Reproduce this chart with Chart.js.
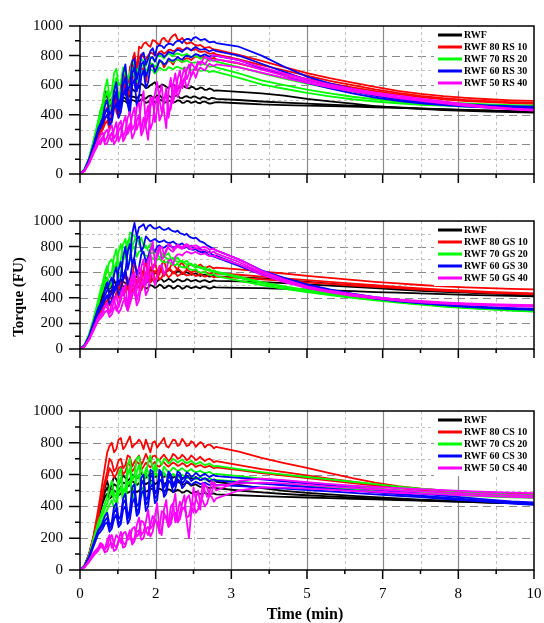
<!DOCTYPE html>
<html>
<head>
	<meta charset="utf-8">
	<title>Torque curves</title>
	<script src="https://cdn.jsdelivr.net/npm/chart.js@4.4.0/dist/chart.umd.min.js"></script>
	<style>
		body { margin: 0; background: #fff; }
		#fig { position: relative; width: 544px; height: 623px; }
		canvas { position: absolute; left: 0; }
		.title { position: absolute; font-family: "Liberation Serif", serif; font-weight: bold; text-align: center; color: #000; }
		#ytitle { left: -32px; top: 287px; width: 100px; height: 20px; line-height: 20px; font-size: 15px; transform: rotate(-90deg); }
		#xtitle { left: 205px; top: 604px; width: 200px; height: 20px; line-height: 20px; font-size: 16px; }
	</style>
</head>
<body>
<div id="fig">
	<canvas id="c1" width="544" height="200" style="top:0px"></canvas>
	<canvas id="c2" width="544" height="180" style="top:195px"></canvas>
	<canvas id="c3" width="544" height="238" style="top:385px"></canvas>
	<div class="title" id="ytitle">Torque (FU)</div>
	<div class="title" id="xtitle">Time (min)</div>
</div>
<script>
// time axis (min): main readings plus the in-between readings of the noisy mixing phase
const time = [0,0.1,0.2,0.3,0.4,0.5,0.6,0.7,0.8,0.9,1,1.1,1.2,1.3,1.4,1.5,1.6,1.7,1.8,1.9,2,2.1,2.2,2.3,2.4,2.5,2.6,2.7,2.8,2.9,3,3.5,4,4.5,5,5.5,6,6.5,7,7.5,8,8.5,9,9.5,10];
const timeMid = [0.45,0.55,0.65,0.75,0.85,0.95,1.05,1.15,1.25,1.35,1.45,1.55,1.65,1.75,1.85,1.95,2.05,2.15,2.25,2.35,2.45,2.55,2.65,2.75,2.85,2.95];
const xTickLabels = ['0','2','3','5','7','8','10'];
const colors = ['#000000','#ff0000','#00ff00','#0000ff','#ff00ff'];

const rsLabels = ['RWF','RWF 80 RS 10','RWF 70 RS 20','RWF 60 RS 30','RWF 50 RS 40'];
const gsLabels = ['RWF','RWF 80 GS 10','RWF 70 GS 20','RWF 60 GS 30','RWF 50 GS 40'];
const csLabels = ['RWF','RWF 80 CS 10','RWF 70 CS 20','RWF 60 CS 30','RWF 50 CS 40'];

// panel 1 - RS (three runs each)
const rsRWF = [
	[0,30,100,210,340,470,540,510,490,520,540,530,560,590,600,585,610,590,605,590,600,595,585,590,578,585,575,580,570,572,565,555,545,530,508,490,475,458,448,440,432,426,422,418,415],
	[0,28,95,200,330,450,520,470,500,480,510,500,520,530,515,525,520,530,515,525,520,530,515,522,518,525,512,520,510,515,508,500,490,482,475,468,462,456,450,444,438,433,429,425,422],
	[0,25,90,190,310,430,500,460,480,470,490,480,495,490,500,485,495,488,498,485,492,487,495,482,490,485,480,488,482,478,485,478,470,466,462,458,455,451,447,442,437,432,428,424,420]
];
const rsRWFmid = [
	[420,560,480,530,470,560,510,575,570,610,580,600,620,585,600,580,605,580,595,582,590,572,585,568,578,562],
	[400,530,460,510,470,520,490,525,510,535,510,530,515,535,510,528,515,532,512,526,515,522,508,518,505,512],
	[380,490,450,490,460,495,475,500,485,505,480,500,485,502,480,496,482,498,480,494,480,490,478,490,476,482]
];
const rs80 = [
	[0,25,90,180,260,330,450,380,560,500,700,640,820,860,880,870,905,885,910,900,920,945,905,895,885,878,868,862,855,848,840,805,765,722,682,648,618,588,562,542,526,514,505,498,494],
	[0,22,85,170,250,310,400,470,420,600,560,720,700,780,790,800,815,805,830,822,840,835,850,842,848,838,832,826,820,815,808,775,735,700,665,630,600,572,548,528,512,500,492,486,482],
	[0,20,80,160,240,300,360,420,500,450,600,580,680,650,720,700,740,730,755,745,760,770,765,775,780,785,790,788,785,780,775,745,708,676,642,612,585,560,538,519,504,493,485,479,474]
];
const rs80mid = [
	[300,420,350,480,430,620,560,760,700,850,890,860,900,870,920,890,935,910,920,880,890,870,872,852,858,842],
	[290,370,430,520,380,650,520,760,650,810,775,820,800,825,812,838,830,850,838,855,835,845,825,830,812,818],
	[280,340,300,460,420,540,500,640,560,700,620,735,690,760,720,765,740,775,755,782,770,795,780,792,775,785]
];
const rs70 = [
	[0,35,110,230,360,480,640,560,710,620,700,680,740,720,760,770,780,790,795,800,805,810,808,805,800,795,790,782,775,768,760,722,682,645,610,580,555,532,512,497,485,477,470,466,462],
	[0,32,105,220,340,450,560,500,650,560,700,620,690,700,730,720,745,740,755,750,765,770,765,760,758,752,748,740,735,728,720,680,632,600,570,545,522,505,490,478,470,464,460,456,453],
	[0,30,100,210,320,420,500,460,600,540,640,600,660,650,680,690,700,695,710,705,715,720,718,715,712,708,705,700,698,694,690,650,606,576,548,525,505,490,478,468,462,456,452,448,446]
];
const rs70mid = [
	[430,580,520,680,600,720,640,760,690,780,730,790,760,800,780,815,795,815,800,812,792,798,780,785,765,770],
	[400,520,470,600,520,660,580,720,640,740,690,750,725,765,740,770,755,775,760,768,750,755,738,745,725,730],
	[380,470,430,560,500,610,560,680,620,700,660,705,680,720,700,722,708,725,710,718,702,710,696,702,688,695]
];
const rs60 = [
	[0,30,100,200,310,380,500,430,620,520,740,600,780,700,820,780,850,860,865,870,880,890,900,905,912,920,915,908,900,892,885,860,800,725,658,612,575,538,512,492,480,471,464,459,455],
	[0,28,95,190,290,360,440,380,560,470,650,440,720,620,760,700,790,800,810,805,820,830,835,840,845,850,848,842,838,835,830,800,745,690,636,596,560,528,504,486,472,462,455,450,446],
	[0,25,90,180,280,340,400,350,480,420,580,400,640,520,700,620,740,720,760,750,770,775,780,790,795,800,805,802,800,800,798,770,715,665,616,578,545,516,495,478,465,456,449,444,440]
];
const rs60mid = [
	[340,460,400,560,450,680,560,760,640,800,740,830,800,870,850,880,870,900,885,912,900,925,905,912,890,895],
	[320,410,360,500,420,600,520,680,560,740,660,780,760,815,790,825,812,840,825,850,835,858,840,845,828,838],
	[310,380,330,440,380,520,470,600,460,660,580,720,690,770,740,780,765,790,772,800,788,810,795,808,792,802]
];
const rs50 = [
	[0,25,80,160,230,280,250,330,270,360,290,420,330,480,380,230,520,440,600,310,650,560,700,640,740,700,760,770,785,795,800,770,720,680,640,605,575,550,530,510,490,472,455,443,435],
	[0,22,75,150,220,240,300,220,350,260,390,310,450,350,560,400,470,620,420,580,480,680,610,720,680,730,745,755,765,770,775,750,705,665,628,595,566,542,520,500,482,465,450,438,430],
	[0,20,70,140,200,250,210,280,230,320,250,340,280,400,300,460,350,520,400,550,440,600,560,650,620,690,700,710,725,735,740,720,685,650,615,585,558,535,512,494,477,460,447,436,428]
];
const rs50mid = [
	[260,220,300,240,330,250,380,300,450,290,320,450,350,540,420,560,480,640,580,700,660,720,740,790,775,805],
	[200,280,250,300,220,340,270,400,300,480,330,520,540,500,480,380,600,560,660,640,750,700,760,740,780,765],
	[230,200,250,200,290,220,300,240,360,260,400,300,470,360,500,420,540,520,620,580,670,650,720,700,745,730]
];

// panel 2 - GS
const gsRWF = [
	[0,28,95,200,330,470,550,520,500,530,560,545,570,590,600,585,610,595,620,600,610,590,605,595,590,585,580,578,575,570,568,560,552,540,525,510,497,485,472,462,453,445,438,433,430],
	[0,26,90,190,320,450,520,490,510,495,515,505,525,535,520,530,540,528,545,535,540,530,538,532,540,535,530,535,530,528,532,528,522,515,505,495,485,475,465,455,447,440,433,428,424],
	[0,24,85,180,300,420,480,460,475,470,485,478,490,485,495,480,492,486,495,482,490,480,488,478,485,482,480,486,480,478,482,478,475,470,465,458,452,445,440,434,428,423,419,415,412]
];
const gsRWFmid = [
	[420,560,490,540,480,555,530,580,560,610,575,620,590,615,590,625,595,610,585,600,580,592,570,582,565,574],
	[390,500,470,525,480,525,495,540,515,545,512,548,520,550,525,548,522,545,528,545,528,540,525,538,522,536],
	[360,470,445,485,458,490,470,498,478,502,472,500,478,503,475,496,472,495,470,492,475,488,474,490,472,486]
];
const gs80 = [
	[0,25,88,180,280,360,420,380,500,450,600,400,680,520,620,560,640,610,660,630,650,640,660,645,655,648,650,645,640,638,635,622,605,590,572,555,540,525,512,500,490,482,476,470,466],
	[0,22,82,170,260,330,380,450,420,520,480,360,560,480,600,540,620,580,610,600,620,605,615,600,610,605,600,598,595,592,590,580,566,552,538,524,510,498,486,474,464,455,447,440,434],
	[0,20,78,160,250,310,360,400,440,480,450,520,470,560,500,580,540,590,560,585,575,590,580,585,578,582,575,572,570,568,565,555,545,533,520,508,496,485,475,465,455,446,438,432,426]
];
const gs80mid = [
	[320,390,340,460,400,540,480,560,600,460,680,520,670,580,690,610,670,620,675,630,665,640,660,635,648,630],
	[300,360,420,390,480,440,560,420,500,560,520,640,520,650,570,630,590,625,595,620,598,612,592,605,588,598],
	[290,330,390,370,470,420,500,440,540,460,600,520,610,540,600,560,605,570,595,575,590,570,585,565,578,560]
];
const gs70 = [
	[0,35,115,240,380,520,650,600,780,700,860,910,880,840,810,790,770,755,745,735,710,700,690,680,668,650,642,632,622,612,605,565,522,490,462,436,412,390,372,355,340,327,315,305,298],
	[0,32,110,230,360,500,620,700,650,820,760,870,850,820,790,770,750,735,720,710,700,690,680,670,660,648,638,628,618,608,598,555,515,482,455,430,406,385,366,350,336,323,312,302,295],
	[0,30,105,220,340,460,560,520,680,600,740,700,800,760,740,720,705,695,685,675,665,655,645,635,625,615,605,595,586,578,570,535,500,470,445,422,400,380,362,346,332,320,310,300,292]
];
const gs70mid = [
	[460,600,560,720,640,820,740,900,850,870,790,820,760,780,735,750,700,715,680,690,655,662,630,640,610,615],
	[440,560,680,620,760,700,840,800,880,790,810,750,765,720,735,700,712,680,690,660,668,640,645,620,625,600],
	[410,520,480,620,560,700,650,780,720,770,730,735,700,710,680,690,660,668,640,648,620,625,598,605,580,585]
];
const gs60 = [
	[0,30,100,210,320,380,520,440,640,560,800,700,985,950,975,960,950,945,940,935,930,915,905,890,880,865,855,835,810,790,770,700,615,555,505,465,432,405,385,365,350,337,327,320,315],
	[0,28,95,200,300,360,460,560,480,680,600,820,720,880,800,860,850,843,840,835,830,825,818,810,800,790,778,765,752,740,728,660,590,540,495,458,425,398,378,360,345,333,323,315,310],
	[0,26,90,190,280,340,420,380,520,460,620,540,700,640,760,720,790,800,795,805,800,798,795,790,782,775,765,752,740,728,715,650,580,528,485,450,420,394,373,356,342,330,320,312,306]
];
const gs60mid = [
	[350,460,400,580,500,720,620,900,880,960,930,970,940,955,930,945,920,925,900,900,870,870,840,825,800,780],
	[330,420,520,440,620,540,760,660,860,760,880,840,860,835,850,828,840,815,825,802,808,780,785,755,760,732],
	[310,380,350,460,420,560,500,660,580,740,680,780,760,810,790,812,795,805,788,798,778,780,758,760,732,722]
];
const gs50 = [
	[0,24,80,165,250,300,360,300,420,380,500,400,600,450,700,560,840,720,800,760,810,800,805,812,808,805,800,795,790,780,770,700,610,545,490,455,428,405,388,375,365,357,350,346,343],
	[0,22,75,155,235,280,320,360,300,440,350,520,420,640,500,700,620,760,700,780,770,785,790,795,790,785,780,772,765,755,745,680,595,535,482,448,422,400,383,370,360,352,346,341,338],
	[0,20,70,145,220,260,300,270,340,310,400,350,460,380,540,460,600,560,660,620,700,720,740,750,755,752,748,742,735,728,720,660,580,522,475,442,416,395,378,365,355,347,341,336,332]
];
const gs50mid = [
	[270,330,280,380,330,460,340,540,380,640,500,760,680,780,740,820,780,815,795,820,800,810,790,798,775,785],
	[260,340,280,400,330,480,300,580,460,600,520,740,660,800,720,790,760,800,782,805,778,792,770,778,750,760],
	[240,290,250,320,280,370,300,430,340,500,420,580,500,640,580,690,660,740,730,760,745,758,740,748,725,730]
];

// panel 3 - CS
const csRWF = [
	[0,30,100,210,340,460,560,540,570,560,580,575,590,585,595,590,600,592,598,590,595,588,590,582,585,578,575,570,566,560,555,535,515,498,485,475,466,458,450,443,437,431,426,423,420],
	[0,28,95,200,320,440,520,500,530,520,545,535,550,545,555,548,560,550,555,548,552,545,548,540,542,535,530,526,522,518,515,500,488,478,470,463,456,450,444,438,433,428,424,421,418],
	[0,25,90,190,300,420,480,460,490,480,500,492,505,498,510,500,508,500,505,496,502,495,498,490,494,488,485,482,480,478,476,470,465,460,456,452,448,444,440,436,432,428,424,420,417]
];
const csRWFmid = [
	[410,520,500,590,540,595,560,600,575,610,580,610,585,612,585,605,580,600,578,595,575,585,565,575,555,562],
	[390,490,480,540,505,550,525,560,535,565,540,562,540,565,542,560,538,556,535,550,530,540,522,530,515,522],
	[370,460,450,500,470,505,485,512,490,515,492,512,494,512,490,508,488,505,486,500,482,492,478,486,474,482]
];
const cs80 = [
	[0,28,100,220,380,560,740,800,760,830,780,840,790,820,760,780,800,770,810,780,795,815,790,805,785,800,790,795,785,780,775,745,705,672,642,610,578,550,528,512,500,492,486,482,479],
	[0,26,95,210,350,500,620,680,640,700,660,710,680,720,690,700,715,700,710,705,700,720,705,712,700,708,700,698,695,690,685,660,635,615,595,575,555,535,518,505,494,486,480,475,472],
	[0,24,90,200,330,470,580,620,600,650,620,660,640,670,650,660,665,655,670,660,665,668,660,665,658,662,655,652,650,648,645,628,610,594,578,562,546,530,515,502,490,481,474,468,464]
];
const cs80mid = [
	[470,650,780,740,820,760,810,770,800,800,820,740,810,790,830,770,820,780,825,780,810,775,805,770,790,765],
	[430,560,700,620,690,640,720,650,700,660,730,680,720,690,725,685,730,700,725,690,720,690,712,685,700,678],
	[400,540,640,580,640,600,670,620,680,630,675,645,680,650,678,650,675,655,672,650,670,648,660,645,655,640]
];
const cs70 = [
	[0,26,92,200,300,380,460,560,450,640,520,700,600,715,580,680,640,700,660,690,680,690,685,680,678,675,672,668,664,660,655,635,615,600,585,570,555,540,525,512,500,490,482,476,470],
	[0,24,88,190,280,350,420,500,420,580,480,640,520,660,560,620,600,640,610,630,625,635,630,628,625,622,618,615,612,608,605,590,575,562,550,538,526,514,503,493,484,476,470,465,461],
	[0,22,85,180,260,320,380,440,400,520,440,560,480,600,520,580,560,600,570,590,585,595,590,585,582,580,578,575,572,570,566,556,545,535,526,517,508,499,490,482,475,468,462,457,453]
];
const cs70mid = [
	[340,420,520,480,600,480,660,560,700,640,600,720,620,690,700,670,700,675,695,672,688,665,680,660,670,650],
	[320,390,460,440,540,450,600,460,620,540,640,590,660,600,650,615,645,620,640,618,635,615,625,610,618,600],
	[290,350,410,390,480,420,540,440,580,460,620,540,610,560,615,575,605,580,600,575,592,572,585,568,578,560]
];
const cs60 = [
	[0,24,85,170,250,300,360,300,420,340,480,380,540,420,600,460,620,500,610,540,600,560,610,580,605,595,600,598,595,592,590,580,570,558,545,532,518,505,492,480,468,455,443,432,425],
	[0,22,80,160,240,280,330,280,390,310,440,350,500,390,560,430,580,470,590,510,570,540,590,560,580,570,575,572,570,566,562,553,543,533,522,511,500,489,478,467,456,445,435,425,418],
	[0,20,76,150,225,260,300,260,350,290,400,320,450,360,500,400,540,440,560,480,545,510,560,530,550,545,548,545,542,540,536,528,520,512,503,494,485,476,467,458,448,438,428,418,410]
];
const cs60mid = [
	[270,340,280,400,320,450,330,520,400,580,440,630,480,630,520,620,540,620,570,615,585,610,588,605,585,598],
	[260,310,260,360,290,420,320,480,360,540,410,600,450,610,480,600,520,600,545,590,560,582,565,578,560,570],
	[240,290,240,320,270,380,290,420,340,480,370,520,420,570,460,560,490,570,515,560,535,555,540,550,535,542]
];
const cs50 = [
	[0,20,60,110,140,160,150,220,140,240,160,250,200,330,240,380,280,420,220,440,320,480,360,470,200,520,420,550,460,560,500,560,575,565,552,540,530,522,515,508,502,496,491,487,484],
	[0,18,55,100,130,150,190,140,220,170,240,200,270,230,300,220,340,290,370,320,400,300,430,390,470,360,500,460,520,480,530,545,550,545,535,525,516,508,500,494,488,482,477,472,468],
	[0,16,50,90,120,140,120,170,130,200,150,220,180,250,200,270,240,300,260,340,290,360,320,390,340,420,380,440,420,460,450,500,520,518,512,505,498,492,486,480,475,470,465,460,456]
];
const cs50mid = [
	[170,130,200,160,190,170,210,180,280,220,300,260,340,250,380,280,400,300,420,310,360,450,380,500,480,530],
	[160,130,220,170,200,230,190,260,210,310,250,280,320,260,360,280,420,360,390,450,400,450,420,540,470,550],
	[145,110,160,120,180,140,210,160,240,190,260,210,310,230,330,270,350,300,380,330,410,360,430,400,470,430]
];

const FONT = '"Liberation Serif", "Times New Roman", serif';

// grid, frame, ticks and legend in the Origin style
const panelDecor = {
	id: 'panelDecor',
	beforeDatasetsDraw(chart) {
		const { ctx, chartArea: a, scales: { x, y } } = chart;
		ctx.save();
		for (let v = 100; v < 1000; v += 100) {
			const py = Math.round(y.getPixelForValue(v)) + 0.5;
			if (v % 200 === 0) { ctx.strokeStyle = '#8a8a8a'; ctx.setLineDash([8, 5]); ctx.lineWidth = 1.2; }
			else { ctx.strokeStyle = '#c0c0c0'; ctx.setLineDash([3, 3]); ctx.lineWidth = 1; }
			ctx.beginPath(); ctx.moveTo(a.left, py); ctx.lineTo(a.right, py); ctx.stroke();
		}
		x.ticks.forEach((t, i) => {
			if (i === 0 || i === x.ticks.length - 1) return;
			const px = Math.round(x.getPixelForValue(t.value)) + 0.5;
			if (i % 2 === 0) { ctx.strokeStyle = '#8a8a8a'; ctx.setLineDash([]); ctx.lineWidth = 1.2; }
			else { ctx.strokeStyle = '#c0c0c0'; ctx.setLineDash([3, 3]); ctx.lineWidth = 1; }
			ctx.beginPath(); ctx.moveTo(px, a.top); ctx.lineTo(px, a.bottom); ctx.stroke();
		});
		ctx.restore();
	},
	afterDatasetsDraw(chart, args, opts) {
		const { ctx, chartArea: a, scales: { x, y } } = chart;
		ctx.save();
		ctx.setLineDash([]);
		ctx.strokeStyle = '#000';
		ctx.lineWidth = 1.5;
		ctx.strokeRect(a.left, a.top, a.right - a.left, a.bottom - a.top);
		ctx.beginPath();
		for (let v = 0; v <= 1000; v += 100) {
			const py = y.getPixelForValue(v);
			ctx.moveTo(a.left - (v % 200 === 0 ? 11 : 5), py); ctx.lineTo(a.left, py);
		}
		x.ticks.forEach((t, i) => {
			const px = x.getPixelForValue(t.value);
			ctx.moveTo(px, a.bottom); ctx.lineTo(px, a.bottom + (i % 2 === 0 ? 9 : 4));
		});
		ctx.stroke();

		// legend box
		const lx = a.right - 100;
		ctx.fillStyle = '#fff';
		ctx.fillRect(lx, a.top + 1, 99, 64);
		ctx.font = 'bold 10px ' + FONT;
		ctx.textBaseline = 'middle';
		opts.labels.forEach((lab, i) => {
			const ly = a.top + 9 + i * 12;
			ctx.strokeStyle = colors[i];
			ctx.lineWidth = 3;
			ctx.beginPath(); ctx.moveTo(lx + 4, ly); ctx.lineTo(lx + 28, ly); ctx.stroke();
			ctx.fillStyle = '#000';
			ctx.fillText(lab, lx + 30, ly + 0.5);
		});
		ctx.restore();
	}
};

function buildDatasets(groups, midGroups, labels) {
	const out = [];
	groups.forEach((runs, g) => {
		runs.forEach((run, r) => {
			const pts = run.map((v, i) => ({ x: time[i], y: v }))
				.concat(midGroups[g][r].map((v, i) => ({ x: timeMid[i], y: v })))
				.sort((p, q) => p.x - q.x);
			out.push({
				label: labels[g],
				data: pts,
				borderColor: colors[g],
				backgroundColor: colors[g],
				borderWidth: 1.8,
				borderJoinStyle: 'round',
				pointRadius: 0,
				fill: false,
				tension: 0,
				order: 5 - g
			});
		});
	});
	return out;
}

function makePanel(id, groups, midGroups, labels, padTop, padBottom, xHeight, showX) {
	const ctx = document.getElementById(id).getContext('2d');
	return new Chart(ctx, {
		type: 'line',
		data: { datasets: buildDatasets(groups, midGroups, labels) },
		options: {
			responsive: false,
			animation: false,
			events: [],
			layout: { padding: { left: 0, right: 10, top: padTop, bottom: padBottom } },
			scales: {
				x: {
					type: 'linear',
					min: 0,
					max: 10,
					afterBuildTicks: s => { s.ticks = Array.from({ length: 13 }, (_, i) => ({ value: i * 10 / 12 })); },
					afterFit: s => { s.height = xHeight; s.paddingLeft = 0; s.paddingRight = 0; },
					grid: { display: false, drawTicks: false },
					border: { display: false },
					ticks: {
						display: showX,
						autoSkip: false,
						maxRotation: 0,
						padding: 15,
						color: '#000',
						font: { family: FONT, size: 15 },
						callback: (v, i) => (i % 2 === 0 ? xTickLabels[i / 2] : '')
					}
				},
				y: {
					min: 0,
					max: 1000,
					afterFit: s => { s.width = 80; },
					grid: { display: false, drawTicks: false },
					border: { display: false },
					ticks: {
						stepSize: 100,
						autoSkip: false,
						padding: 17,
						color: '#000',
						font: { family: FONT, size: 15 },
						callback: v => (v % 200 === 0 ? v : '')
					}
				}
			},
			plugins: {
				legend: { display: false },
				tooltip: { enabled: false },
				panelDecor: { labels: labels }
			}
		},
		plugins: [panelDecor]
	});
}

makePanel('c1', [rsRWF, rs80, rs70, rs60, rs50], [rsRWFmid, rs80mid, rs70mid, rs60mid, rs50mid], rsLabels, 18, 16, 0, false);
makePanel('c2', [gsRWF, gs80, gs70, gs60, gs50], [gsRWFmid, gs80mid, gs70mid, gs60mid, gs50mid], gsLabels, 15, 15, 0, false);
makePanel('c3', [csRWF, cs80, cs70, cs60, cs50], [csRWFmid, cs80mid, cs70mid, cs60mid, cs50mid], csLabels, 14, 0, 53, true);
</script>
</body>
</html>
